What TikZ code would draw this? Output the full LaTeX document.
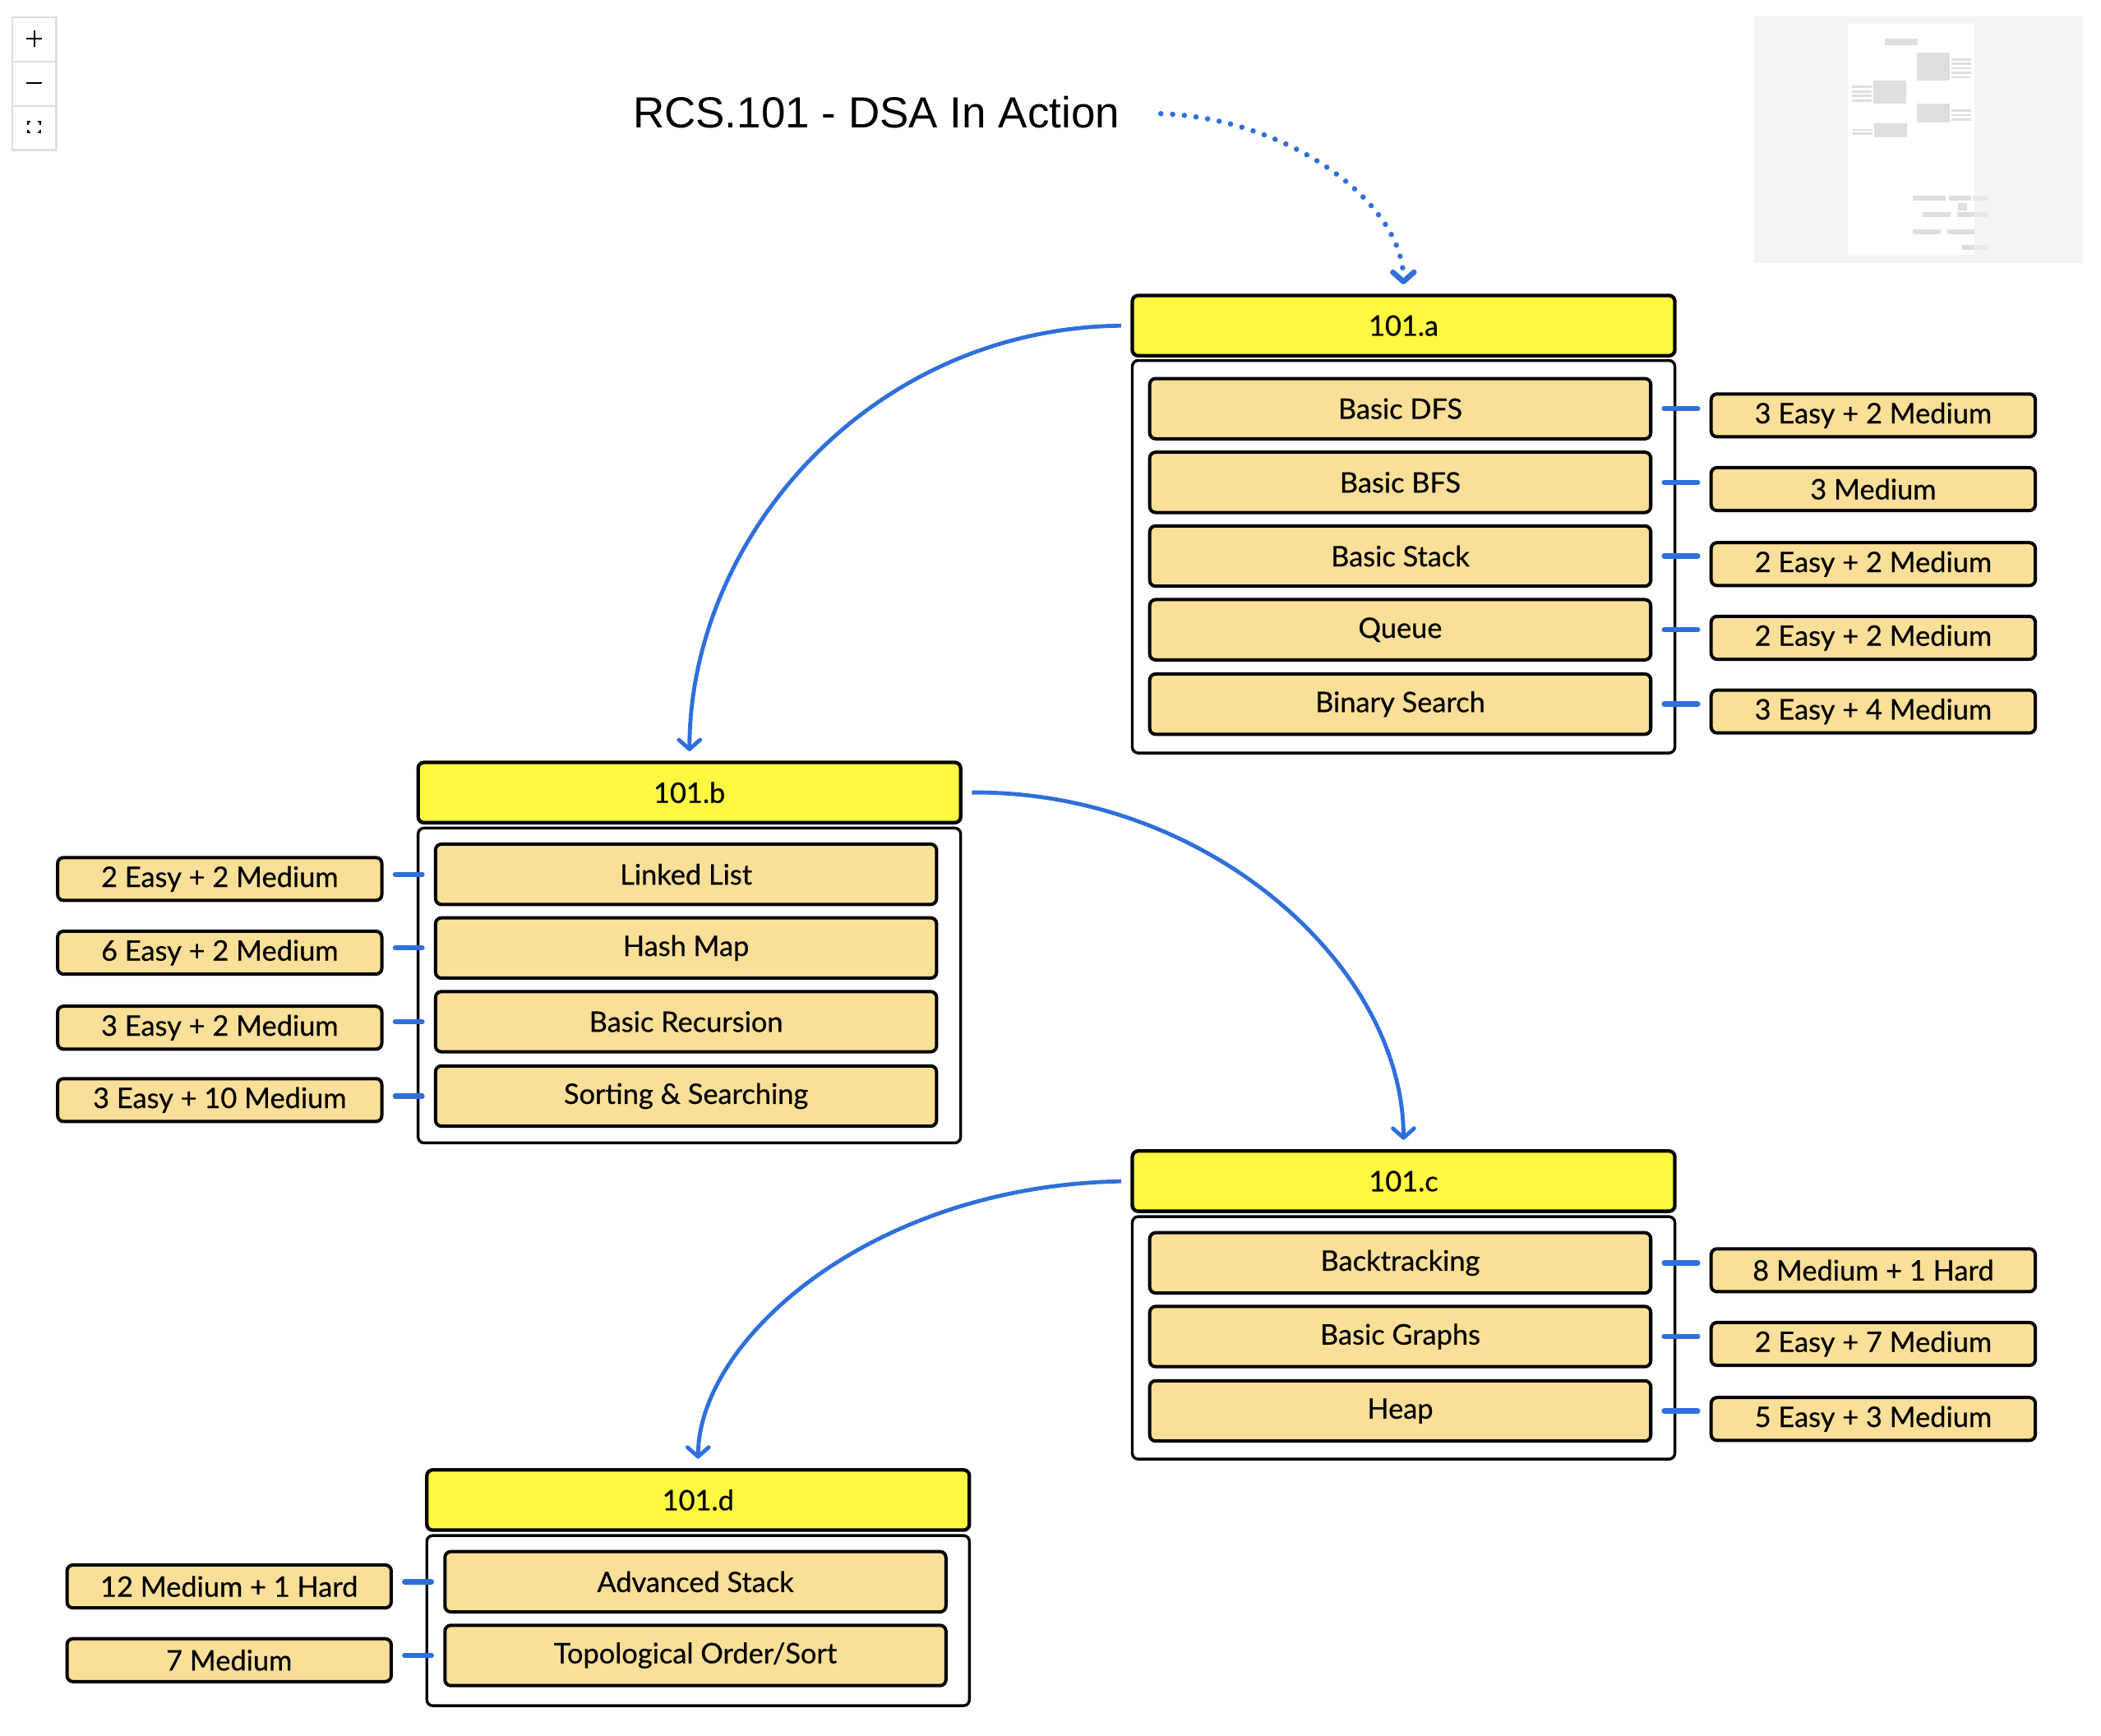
\documentclass[tikz,border=0pt]{standalone}
\usepackage{fontspec}
\setmainfont{Lato}[BoldFont=Lato, BoldFeatures={FakeBold=0.5}]
\newfontfamily\titlefont{Liberation Sans}
\usetikzlibrary{arrows.meta}
\definecolor{hdyellow}{HTML}{FFF842}
\definecolor{itemtan}{HTML}{FADF98}
\definecolor{linkblue}{HTML}{2F6FDC}
\definecolor{mapgrey}{HTML}{DEDEDE}
\definecolor{mapbg}{HTML}{F4F4F4}

\begin{document}
\begin{tikzpicture}[x=0.02cm, y=-0.02cm,
    header/.style={draw, fill=hdyellow, line width=1.5pt, rounded corners=2.5pt,
        minimum width=8.1cm, minimum height=0.9cm, font=\bfseries\fontsize{12}{14}\selectfont},
    body/.style={draw, line width=1.2pt, rounded corners=2.5pt, minimum width=8.1cm},
    topic/.style={draw, fill=itemtan, line width=1.4pt, rounded corners=2.5pt,
        minimum width=7.48cm, minimum height=0.9cm, font=\bfseries\fontsize{12}{14}\selectfont},
    count/.style={draw, fill=itemtan, line width=1.4pt, rounded corners=2.5pt,
        minimum width=4.84cm, minimum height=0.64cm, font=\bfseries\fontsize{12}{14}\selectfont},
    link/.style={draw=linkblue, line width=2.2pt, line cap=round, shorten <=5pt, shorten >=5pt},
    flow/.style={draw=linkblue, line width=1.7pt,
        -{Straight Barb[length=4pt, width=9pt, line cap=round, line join=round]},
        shorten <=4pt, shorten >=4pt},
    mapbox/.style={fill=mapgrey, draw=none}]
    \useasboundingbox (0,0) rectangle (1568,1295.6);

    \draw[gray!25, line width=0.8pt] (9,13) rectangle (42,112);
    \draw[gray!25, line width=0.8pt] (9,46) -- (42,46);
    \draw[gray!25, line width=0.8pt] (9,79) -- (42,79);
    \draw[line width=0.7pt] (19.5,29) -- (31.5,29);
    \draw[line width=0.7pt] (25.5,23) -- (25.5,35);
    \draw[line width=0.8pt] (19.5,62) -- (31.5,62);
    \draw[line width=0.7pt] (21,93) -- (21,91) -- (23,91);
    \draw[line width=0.7pt] (28,91) -- (30,91) -- (30,93);
    \draw[line width=0.7pt] (21,97) -- (21,99) -- (23,99);
    \draw[line width=0.7pt] (28,99) -- (30,99) -- (30,97);

    \begin{scope}[shift={(1288.2,0)}, scale=0.2045]
        \fill[mapbg] (102,60) rectangle (1302,960);
        \fill[white] (445,88) rectangle (907,930);
        \fill[mapgrey] (579,141) rectangle (699,165);
        \fill[mapgrey] (696,192) rectangle (816,294);
        \fill[mapgrey] (822,213) rectangle (894,221);
        \fill[mapgrey] (822,229) rectangle (894,237);
        \fill[mapgrey] (822,245) rectangle (894,253);
        \fill[mapgrey] (822,261) rectangle (894,269);
        \fill[mapgrey] (822,278) rectangle (894,286);
        \fill[mapgrey] (537,294) rectangle (657,378);
        \fill[mapgrey] (459,313) rectangle (531,321);
        \fill[mapgrey] (459,330) rectangle (531,338);
        \fill[mapgrey] (459,346) rectangle (531,354);
        \fill[mapgrey] (459,363) rectangle (531,371);
        \fill[mapgrey] (696,378) rectangle (816,447);
        \fill[mapgrey] (822,400) rectangle (894,408);
        \fill[mapgrey] (822,416) rectangle (894,424);
        \fill[mapgrey] (822,432) rectangle (894,440);
        \fill[mapgrey] (540,450) rectangle (660,501);
        \fill[mapgrey] (462,470) rectangle (534,478);
        \fill[mapgrey] (462,484) rectangle (534,492);
        \fill[mapgrey] (681,714) rectangle (801,731);
        \fill[mapgrey] (813,714) rectangle (894,731);
        \fill[mapgrey!70] (900,714) rectangle (957,731);
        \fill[mapgrey] (846,741) rectangle (879,768);
        \fill[mapgrey] (717,774) rectangle (819,791);
        \fill[mapgrey] (843,774) rectangle (906,791);
        \fill[mapgrey!70] (906,774) rectangle (957,791);
        \fill[mapgrey] (681,837) rectangle (783,854);
        \fill[mapgrey] (807,837) rectangle (906,854);
        \fill[mapgrey] (861,894) rectangle (906,911);
        \fill[mapgrey!70] (906,894) rectangle (957,911);
    \end{scope}

    \node[font=\titlefont\fontsize{18.5}{22}\selectfont] (title) at (654,84) {RCS.101 - DSA In Action};

    \node[header] (hdA) at (1047.5,243) {101.a};
    \node[body, minimum height=5.86cm] (bodyA) at (1047.5,415.5) {};
    \node[topic] (a1) at (1045,305) {Basic DFS};
    \node[topic] (a2) at (1045,360) {Basic BFS};
    \node[topic] (a3) at (1045,415) {Basic Stack};
    \node[topic] (a4) at (1045,470) {Queue};
    \node[topic] (a5) at (1045,525.5) {Binary Search};
    \node[count] (ca1) at (1398,310) {3 Easy + 2 Medium};
    \node[count] (ca2) at (1398,365) {3 Medium};
    \node[count] (ca3) at (1398,421) {2 Easy + 2 Medium};
    \node[count] (ca4) at (1398,476) {2 Easy + 2 Medium};
    \node[count] (ca5) at (1398,531) {3 Easy + 4 Medium};

    \node[header] (hdB) at (514.5,591.5) {101.b};
    \node[body, minimum height=4.7cm] (bodyB) at (514.5,735.5) {};
    \node[topic] (b1) at (512,652.5) {Linked List};
    \node[topic] (b2) at (512,707.5) {Hash Map};
    \node[topic] (b3) at (512,762.5) {Basic Recursion};
    \node[topic] (b4) at (512,818) {Sorting \& Searching};
    \node[count] (cb1) at (164,656) {2 Easy + 2 Medium};
    \node[count] (cb2) at (164,711) {6 Easy + 2 Medium};
    \node[count] (cb3) at (164,767) {3 Easy + 2 Medium};
    \node[count] (cb4) at (164,821) {3 Easy + 10 Medium};

    \node[header] (hdC) at (1047.5,881.5) {101.c};
    \node[body, minimum height=3.62cm] (bodyC) at (1047.5,998.5) {};
    \node[topic] (c1) at (1045,942.5) {Backtracking};
    \node[topic] (c2) at (1045,997.5) {Basic Graphs};
    \node[topic] (c3) at (1045,1053) {Heap};
    \node[count] (cc1) at (1398,948) {8 Medium + 1 Hard};
    \node[count] (cc2) at (1398,1003) {2 Easy + 7 Medium};
    \node[count] (cc3) at (1398,1059) {5 Easy + 3 Medium};

    \node[header] (hdD) at (521,1119.5) {101.d};
    \node[body, minimum height=2.54cm] (bodyD) at (521,1209.5) {};
    \node[topic] (d1) at (519,1180.5) {Advanced Stack};
    \node[topic] (d2) at (519,1235.5) {Topological Order/Sort};
    \node[count] (cd1) at (171,1184) {12 Medium + 1 Hard};
    \node[count] (cd2) at (171,1239) {7 Medium};

    \draw[link] (a1.east) -- (a1.east -| ca1.west);
    \draw[link] (a2.east) -- (a2.east -| ca2.west);
    \draw[link] (a3.east) -- (a3.east -| ca3.west);
    \draw[link] (a4.east) -- (a4.east -| ca4.west);
    \draw[link] (a5.east) -- (a5.east -| ca5.west);
    \draw[link] (b1.west) -- (b1.west -| cb1.east);
    \draw[link] (b2.west) -- (b2.west -| cb2.east);
    \draw[link] (b3.west) -- (b3.west -| cb3.east);
    \draw[link] (b4.west) -- (b4.west -| cb4.east);
    \draw[link] (c1.east) -- (c1.east -| cc1.west);
    \draw[link] (c2.east) -- (c2.east -| cc2.west);
    \draw[link] (c3.east) -- (c3.east -| cc3.west);
    \draw[link] (d1.west) -- (d1.west -| cd1.east);
    \draw[link] (d2.west) -- (d2.west -| cd2.east);

    \draw[flow, line width=2.3pt, dash pattern=on 0pt off 5pt, line cap=round, shorten <=14pt]
        (title.east) .. controls (960,88) and (1047,150) .. (hdA.north);
    \draw[flow] (hdA.west) .. controls (650,245) and (515,400) .. (hdB.north);
    \draw[flow] (hdB.east) .. controls (900,590) and (1047,720) .. (hdC.north);
    \draw[flow] (hdC.west) .. controls (650,885) and (521,1000) .. (hdD.north);
\end{tikzpicture}
\end{document}
